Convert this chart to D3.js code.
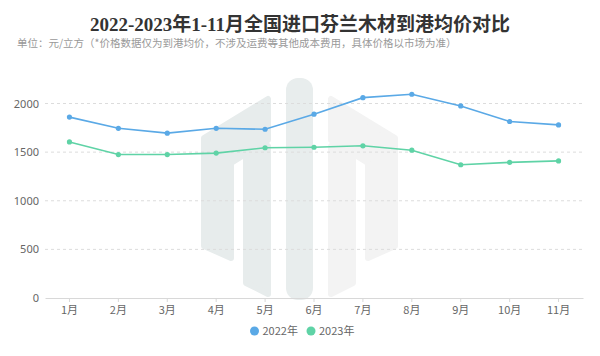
<!DOCTYPE html>
<html><head><meta charset="utf-8">
<script src="https://cdn.jsdelivr.net/npm/d3@7"></script>
<style>
html,body{margin:0;padding:0;background:#fff;}
svg{display:block;}
</style></head>
<body>
<svg id="chart" width="600" height="356"></svg>
<script>
const months = ["1月","2月","3月","4月","5月","6月","7月","8月","9月","10月","11月"];
const series2022 = [1860,1745,1695,1745,1735,1890,2060,2095,1975,1815,1780];
const series2023 = [1605,1475,1475,1490,1545,1550,1565,1520,1370,1395,1410];
const seriesNames = ["2022年","2023年"];
const seriesColors = ["#5aa9e6","#5fd3a6"];
const yTicks = [0,500,1000,1500,2000];
const titleText = "2022-2023年1-11月全国进口芬兰木材到港均价对比";
const subtitleText = "单位：元/立方（*价格数据仅为到港均价，不涉及运费等其他成本费用，具体价格以市场为准）";

const svg = d3.select("#chart");
const W = 600, H = 356;
const margin = {left:45, right:17, top:103, bottom:58};
const x = d3.scaleBand().domain(months).range([margin.left, W - margin.right]);
const y = d3.scaleLinear().domain([0, 2000]).range([H - margin.bottom, 103.5]);

// watermark logo (decorative)
const wm = svg.append("g").attr("stroke-linejoin","round").attr("stroke-width",6);
const leftCol = "#e7ecec", rightCol = "#f3f3f3";
const cx = 299.5;
const outerL = [[204,138],[268,99],[268,140],[231,163],[231,258],[204,246]];
const innerL = [[246,154],[268,146],[268,294],[246,283]];
const mirror = pts => pts.map(p => [2*cx - p[0], p[1]]);
const line = d3.line().curve(d3.curveLinearClosed);
[[outerL,leftCol],[innerL,leftCol],[mirror(outerL),rightCol],[mirror(innerL),rightCol]].forEach(([p,c])=>{
  wm.append("path").attr("d", line(p)).attr("fill", c).attr("stroke", c);
});
wm.append("rect").attr("x",286).attr("y",78).attr("width",27).attr("height",222).attr("rx",12)
  .attr("fill","#e8eded");

// title
svg.append("text").attr("x", 300).attr("y", 31).attr("text-anchor","middle")
  .attr("font-family","'Liberation Serif','Noto Sans CJK SC',serif").attr("font-weight","bold")
  .attr("font-size",19).attr("fill","#333").text(titleText);
svg.append("text").attr("x", 17).attr("y", 47)
  .attr("font-family","'Noto Sans CJK SC',sans-serif")
  .attr("font-size",10.5).attr("fill","#999").text(subtitleText);

// grid
const grid = svg.append("g");
yTicks.filter(t=>t>0).forEach(t=>{
  grid.append("line").attr("x1",margin.left).attr("x2",W-margin.right)
    .attr("y1",y(t)).attr("y2",y(t)).attr("stroke","#dcdcdc").attr("stroke-dasharray","3,3");
});

// y axis labels
const yAxis = d3.axisLeft(y).tickValues(yTicks).tickFormat(d3.format("d")).tickSize(0).tickPadding(6);
const gy = svg.append("g").attr("transform",`translate(${margin.left},0)`).call(yAxis);
gy.select(".domain").remove();
gy.selectAll("text").attr("font-family","'Noto Sans','DejaVu Sans',sans-serif").attr("font-size",11).attr("fill","#666");

// x axis
const xAxis = d3.axisBottom(x).tickSize(4).tickSizeOuter(0).tickPadding(4);
const gx = svg.append("g").attr("transform",`translate(0,${y(0)})`).call(xAxis);
gx.select(".domain").attr("stroke","#d8d8d8");
gx.selectAll(".tick line").attr("stroke","#d8d8d8");
gx.selectAll("text").attr("font-family","'Noto Sans CJK SC',sans-serif").attr("font-size",11).attr("fill","#666");

// lines
const lineGen = d3.line().x((d,i)=>x(months[i]) + x.bandwidth()/2).y(d=>y(d));
[series2022, series2023].forEach((s,k)=>{
  svg.append("path").datum(s).attr("d",lineGen).attr("fill","none")
    .attr("stroke",seriesColors[k]).attr("stroke-width",1.6);
  svg.append("g").selectAll("circle").data(s).join("circle")
    .attr("cx",(d,i)=>x(months[i]) + x.bandwidth()/2).attr("cy",d=>y(d)).attr("r",2.6)
    .attr("fill",seriesColors[k]);
});

// legend
const legendX = [254.5, 311];
seriesNames.forEach((n,k)=>{
  const g = svg.append("g");
  g.append("circle").attr("cx",legendX[k]).attr("cy",331).attr("r",4.5).attr("fill",seriesColors[k]);
  g.append("text").attr("x",legendX[k]+8).attr("y",335).attr("font-family","'Noto Sans CJK SC',sans-serif")
    .attr("font-size",11).attr("fill","#666").text(n);
});
</script>
</body></html>
